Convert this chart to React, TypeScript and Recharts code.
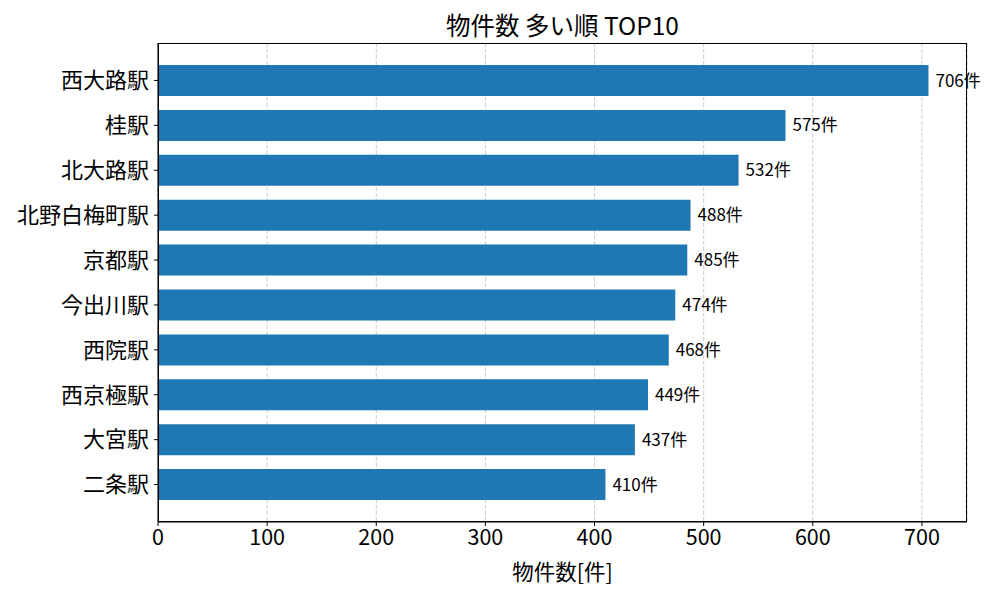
import React from 'react';
import { BarChart, Bar, XAxis, YAxis, CartesianGrid, LabelList } from 'recharts';

// 物件数の多い駅 TOP10
const stations = ['西大路駅', '桂駅', '北大路駅', '北野白梅町駅', '京都駅', '今出川駅', '西院駅', '西京極駅', '大宮駅', '二条駅'];
const counts = [706, 575, 532, 488, 485, 474, 468, 449, 437, 410];
const xTicks = [0, 100, 200, 300, 400, 500, 600, 700];

const data = stations.map((name, i) => ({ name, count: counts[i] }));

const font = '"Noto Sans CJK JP", "Noto Sans", sans-serif';

const App: React.FC = () => (
  <div style={{ position: 'absolute', left: 0, top: 0, width: 1000, height: 600, background: '#fff', fontFamily: font }}>
    <div style={{ position: 'absolute', left: 158, width: 809, top: 8, textAlign: 'center', fontSize: 24.5, color: '#000', lineHeight: '34px' }}>
      物件数 多い順 TOP10
    </div>
    <BarChart
      width={1000}
      height={600}
      data={data}
      layout="vertical"
      margin={{ top: 43, right: 33, bottom: 0, left: 0 }}
      style={{ fontFamily: font }}
    >
      <CartesianGrid horizontal={false} vertical stroke="#cccccc" strokeDasharray="4 2" />
      <XAxis
        type="number"
        domain={[0, 741.3]}
        ticks={xTicks}
        height={78}
        tickSize={4}
        tickMargin={4}
        tick={{ fill: '#000', fontSize: 21.5 }}
        axisLine={{ stroke: '#000' }}
        tickLine={{ stroke: '#000' }}
        label={{ value: '物件数[件]', position: 'insideBottom', offset: 20, fill: '#000', fontSize: 21.5 }}
      />
      <YAxis
        type="category"
        dataKey="name"
        width={158}
        padding={{ top: 15, bottom: 15 }}
        tickSize={4}
        tickMargin={5}
        tick={{ fill: '#000', fontSize: 22 }}
        axisLine={{ stroke: '#000' }}
        tickLine={{ stroke: '#000' }}
        interval={0}
      />
      <Bar dataKey="count" fill="#1f77b4" barSize={31} isAnimationActive={false}>
        <LabelList dataKey="count" position="right" offset={7} formatter={(v: any) => `${v}件`} fill="#000" fontSize={17} />
      </Bar>
    </BarChart>
    {/* 枠線 (matplotlib の spines) */}
    <div style={{ position: 'absolute', left: 158, top: 43, width: 809, height: 479, border: '1px solid #000', boxSizing: 'border-box', pointerEvents: 'none' }} />
  </div>
);

export default App;
